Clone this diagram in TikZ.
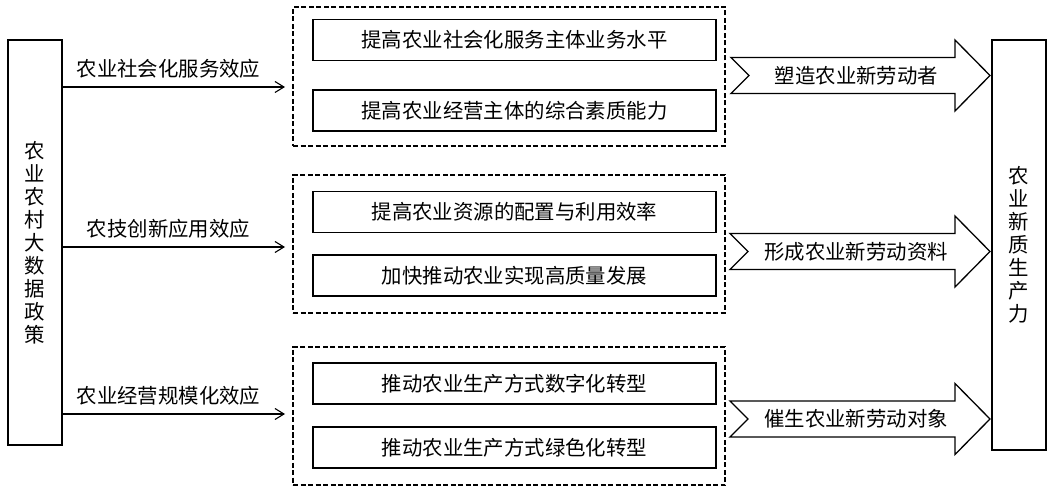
\documentclass[tikz,border=0pt]{standalone}
\usepackage{fontspec}
\setmainfont{Noto Sans CJK SC}
\usepackage{tikz}
\usetikzlibrary{positioning}
\usetikzlibrary{calc}
\usetikzlibrary{arrows.meta}
\tikzset{every node/.style={font=\fontsize{20.4}{23}\selectfont},
sidebox/.style={ % Tall boxes at both ends
draw, line width=1.2pt, minimum width=54pt, outer sep=0pt, align=center},
itembox/.style={draw, line width=1.2pt, minimum width=403pt, minimum height=41pt, outer sep=0pt},
groupbox/.style={ % Dashed frame round two items
draw, line width=1.8pt, dash pattern=on 5pt off 2.5pt,
minimum width=432pt, minimum height=138pt, outer sep=0pt},
effect/.style={draw, line width=1.1pt, -{Straight Barb[length=9pt,width=11pt]}},
effectlabel/.style={above, inner sep=8pt, xshift=-5pt},
fat/.style={draw, line width=1.3pt, fill=white, line join=miter}}
% Block arrow from tail #1 to tip #2 with label #3
\newcommand{\fatarrow}[3]{%
\draw[fat] ($(#1)+(0,-18)$) -- ($(#2)+(-35,-18)$) -- ($(#2)+(-35,-35.5)$) -- (#2)
  -- ($(#2)+(-35,35.5)$) -- ($(#2)+(-35,18)$) -- ($(#1)+(0,18)$) -- ($(#1)+(18,0)$) -- cycle;
\node at ($(#1)!0.5!(#2)+(-4,0)$) {#3};}

\begin{document}
\begin{tikzpicture}[x=1pt, y=-1pt]
\useasboundingbox (0,0) rectangle (1047,486);
\node[sidebox, minimum height=405pt] (policy) at (35,242.5) {农\\业\\农\\村\\大\\数\\据\\政\\策};
\node[sidebox, minimum height=410pt] (prod) at (1019,245) {农\\业\\新\\质\\生\\产\\力};

\node[groupbox, minimum height=139pt] (g1) at (509,76.5) {};
\node[groupbox] (g2) at (509,244) {};
\node[groupbox] (g3) at (509,416) {};

\node[itembox] (b11) at (514.5,40) {提高农业社会化服务主体业务水平};
\node[itembox, below=29.5pt of b11] (b12) {提高农业经营主体的综合素质能力};
\node[itembox] (b21) at (514.5,212) {提高农业资源的配置与利用效率};
\node[itembox, below=22.5pt of b21] (b22) {加快推动农业实现高质量发展};
\node[itembox] (b31) at (514.5,383.5) {推动农业生产方式数字化转型};
\node[itembox, below=23pt of b31] (b32) {推动农业生产方式绿色化转型};

\coordinate (e1) at (0,87);
\coordinate (e2) at (0,247);
\coordinate (e3) at (0,414);
\draw[effect] (policy.east |- e1) -- node[effectlabel] {农业社会化服务效应} ($(g1.west |- e1)+(-8,0)$);
\draw[effect] (policy.east |- e2) -- node[effectlabel] {农技创新应用效应} ($(g2.west |- e2)+(-8,0)$);
\draw[effect] (policy.east |- e3) -- node[effectlabel] {农业经营规模化效应} ($(g3.west |- e3)+(-8,0)$);

\coordinate (a1) at (0,75.5);
\coordinate (a2) at (0,251.5);
\coordinate (a3) at (0,419);
\path ($(g1.east |- a1)+(6,0)$) coordinate (t1) ($(prod.west |- a1)+(-2,0)$) coordinate (h1);
\path ($(g2.east |- a2)+(5,0)$) coordinate (t2) ($(prod.west |- a2)+(-2,0)$) coordinate (h2);
\path ($(g3.east |- a3)+(5,0)$) coordinate (t3) ($(prod.west |- a3)+(-2,0)$) coordinate (h3);
\fatarrow{t1}{h1}{塑造农业新劳动者}
\fatarrow{t2}{h2}{形成农业新劳动资料}
\fatarrow{t3}{h3}{催生农业新劳动对象}
\end{tikzpicture}
\end{document}
